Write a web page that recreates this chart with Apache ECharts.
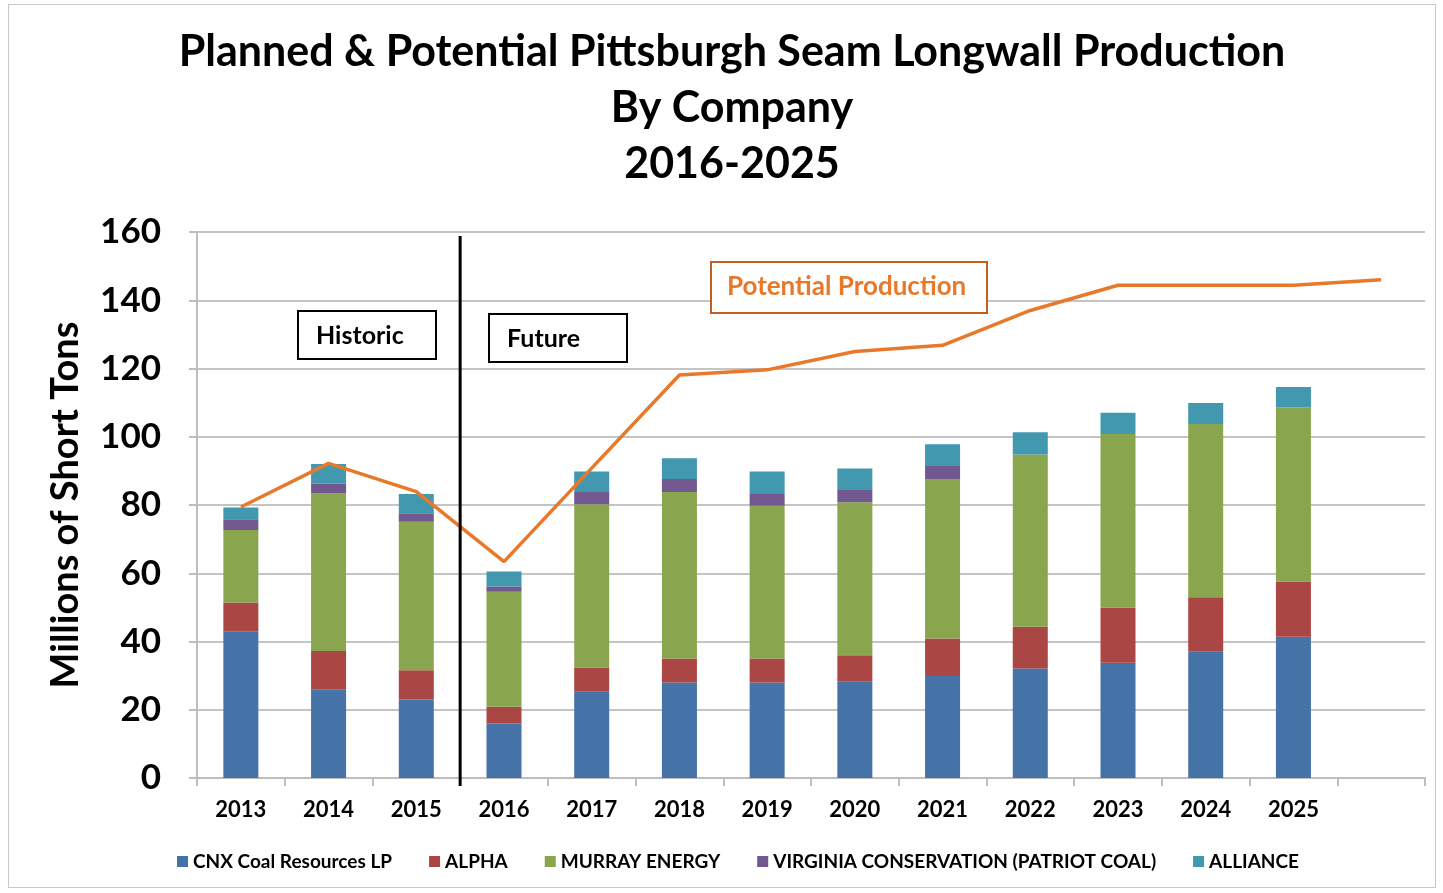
<!DOCTYPE html>
<html>
<head>
<meta charset="utf-8">
<script src="https://cdn.jsdelivr.net/npm/echarts@6/dist/echarts.min.js"></script>
<style>
html,body{margin:0;padding:0;background:#fff;}
#frame{position:absolute;left:8px;top:4px;width:1428px;height:884px;border:1px solid #c8c8c8;box-sizing:border-box;}
#chart{position:absolute;left:0;top:0;width:1443px;height:893px;}
</style>
</head>
<body>
<div id="frame"></div>
<div id="chart"></div>
<script>
const categories = ['2013','2014','2015','2016','2017','2018','2019','2020','2021','2022','2023','2024','2025',''];
const cnx      = [43.0, 26.0, 23.0, 16.0, 25.3, 28.0, 28.0, 28.2, 29.9, 32.1, 33.8, 37.0, 41.4];
const alpha    = [ 8.4, 11.2,  8.6,  4.9,  7.1,  7.0,  7.0,  7.8, 11.0, 12.2, 16.1, 16.0, 16.2];
const murray   = [21.3, 46.2, 43.5, 33.7, 47.8, 48.8, 44.8, 44.8, 46.7, 50.5, 50.9, 50.7, 51.0];
const virginia = [ 3.1,  2.8,  2.5,  1.5,  3.6,  3.8,  3.4,  3.6,  3.8,  0,    0,    0,    0  ];
const alliance = [ 3.5,  5.8,  5.6,  4.4,  6.0,  6.1,  6.6,  6.3,  6.4,  6.5,  6.2,  6.2,  6.0];
const potential = [79.4, 92.2, 83.9, 63.4, 90.8, 118.1, 119.6, 125.0, 126.8, 137.0, 144.4, 144.4, 144.4, 146.0];
const yTicks = [0, 20, 40, 60, 80, 100, 120, 140, 160];
const dividerAt = 3; // boundary between 2015 and 2016 (category index units)
const seriesNames = ['CNX Coal Resources LP','ALPHA','MURRAY ENERGY','VIRGINIA CONSERVATION (PATRIOT COAL)','ALLIANCE'];
const colors = ['#4572A7','#AA4643','#89A54E','#71588F','#4198AF'];
const FONT = 'Lato, "Open Sans", sans-serif';

const chart = echarts.init(document.getElementById('chart'));
const barData = [cnx, alpha, murray, virginia, alliance];
const series = barData.map((d, i) => ({
  name: seriesNames[i], type: 'bar', stack: 'total', data: d,
  barWidth: 35, itemStyle: {color: colors[i]}, z: 2
}));
series.push({
  name: 'Potential Production', type: 'line', data: potential,
  showSymbol: false, symbol: 'none',
  lineStyle: {color: '#E8792B', width: 3.5}, itemStyle: {color: '#E8792B'}, z: 5
});
series.push({name: 'helper', type: 'line', xAxisIndex: 1, data: []});

const baseGraphic = [
  {type: 'rect', left: 297, top: 310, shape: {width: 138, height: 48},
   style: {fill: '#fff', stroke: '#000', lineWidth: 2}, z: 10},
  {type: 'text', left: 316, top: 323, style: {text: 'Historic', font: 'bold 25px ' + FONT, fill: '#000'}, z: 11},
  {type: 'rect', left: 488, top: 313, shape: {width: 138, height: 48},
   style: {fill: '#fff', stroke: '#000', lineWidth: 2}, z: 10},
  {type: 'text', left: 507, top: 326, style: {text: 'Future', font: 'bold 25px ' + FONT, fill: '#000'}, z: 11},
  {type: 'rect', left: 710, top: 261, shape: {width: 276, height: 51},
   style: {fill: '#fff', stroke: '#C0601A', lineWidth: 2}, z: 10},
  {type: 'text', left: 727, top: 274, style: {text: 'Potential Production', font: 'bold 26px ' + FONT, fill: '#E8792B'}, z: 11}
];

chart.setOption({
  animation: false,
  backgroundColor: 'transparent',
  title: {
    text: 'Planned & Potential Pittsburgh Seam Longwall Production\nBy Company\n2016-2025',
    left: 732, top: 24, padding: 0, textAlign: 'center',
    textStyle: {fontFamily: FONT, fontWeight: 'bold', fontSize: 43, lineHeight: 56, color: '#000'}
  },
  legend: {
    data: seriesNames, bottom: 17, left: 172,
    icon: 'rect', itemWidth: 11, itemHeight: 11, itemGap: 37,
    textStyle: {fontFamily: FONT, fontWeight: 'bold', fontSize: 19, color: '#000'}
  },
  grid: {left: 197, right: 18, top: 232, bottom: 115, containLabel: false},
  xAxis: [{
    type: 'category', data: categories,
    axisLine: {lineStyle: {color: '#bdbdbd', width: 2}},
    axisTick: {show: true, length: 8, lineStyle: {color: '#bdbdbd', width: 2}},
    axisLabel: {fontFamily: FONT, fontWeight: 'bold', fontSize: 22, color: '#000', margin: 21}
  }, {
    type: 'value', min: 0, max: 14, show: false
  }],
  yAxis: {
    type: 'value', min: 0, max: 160, interval: 20,
    name: 'Millions of Short Tons', nameLocation: 'middle', nameGap: 112,
    nameTextStyle: {fontFamily: FONT, fontWeight: 'bold', fontSize: 38, color: '#000'},
    axisLine: {show: true, lineStyle: {color: '#bdbdbd', width: 2}},
    axisTick: {show: true, length: 8, lineStyle: {color: '#bdbdbd', width: 2}},
    axisLabel: {fontFamily: FONT, fontWeight: 'bold', fontSize: 35, color: '#000', margin: 36,
      formatter: v => yTicks.includes(v) ? String(v) : ''},
    splitLine: {lineStyle: {color: '#c4c4c4', width: 2}}
  },
  graphic: baseGraphic,
  series: series
});

// vertical divider placed through the library's own scale
const dx = chart.convertToPixel({xAxisIndex: 1}, dividerAt);
const yTop = chart.convertToPixel({yAxisIndex: 0}, 160) + 4;
const yBot = chart.convertToPixel({yAxisIndex: 0}, 0) + 8;
chart.setOption({
  graphic: baseGraphic.concat([{
    type: 'line', shape: {x1: dx, y1: yTop, x2: dx, y2: yBot},
    style: {stroke: '#000', lineWidth: 3}, z: 8
  }])
});
</script>
</body>
</html>
